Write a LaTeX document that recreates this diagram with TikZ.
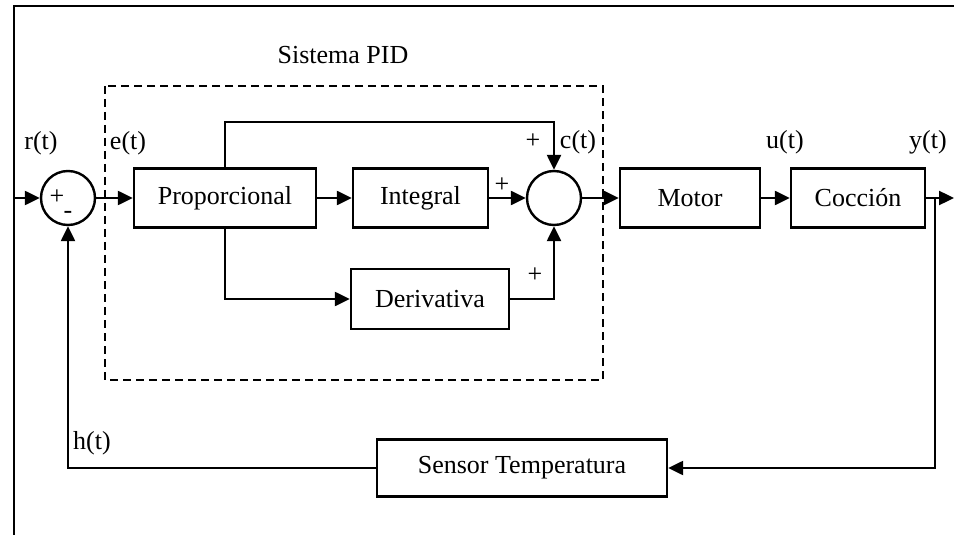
\documentclass[tikz,border=0pt]{standalone}
\usepackage{fontspec}
\setmainfont{Liberation Serif}
\usetikzlibrary{arrows.meta}
\begin{document}
\begin{tikzpicture}[x=0.5pt,y=-0.5pt,
  every node/.style={font=\fontsize{13}{15}\selectfont, inner sep=0pt},
  blk/.style={draw, line width=1.2pt, minimum height=29.5pt},
  sumc/.style={draw, circle, line width=1.2pt, minimum size=27pt},
  conn/.style={line width=1.2pt},
  arr/.style={line width=1.2pt, -{Triangle[length=7.5pt,width=7pt]}},
  lbl/.style={anchor=center}]
\useasboundingbox (0,0) rectangle (954,535);
% frame
\draw[line width=1pt] (14,535) -- (14,6) -- (954,6);
% dashed PID box
\draw[line width=1.1pt, dash pattern=on 4pt off 2.5pt] (105,86) rectangle (603,380);
\node[lbl] (pidlbl) at (343,55) {Sistema PID};
% blocks
\node[sumc] (s1) at (68,198) {};
\node[blk, minimum width=91pt] (prop) at (225,198) {Proporcional};
\node[blk, minimum width=67.5pt] (integ) at (420.5,198) {Integral};
\node[sumc] (s2) at (554,198) {};
\node[blk, minimum width=79pt, minimum height=30pt] (deriv) at (430,299) {Derivativa};
\node[blk, minimum width=70pt] (motor) at (690,198) {Motor};
\node[blk, minimum width=67pt] (cocc) at (858,198) {Cocción};
\node[blk, minimum width=145pt, minimum height=28.5pt] (sensor) at (522,468) {Sensor Temperatura};
% coordinates
\coordinate (in) at (14,198);
\coordinate (out) at (954,198);
\coordinate (br) at (935,198);
\coordinate (top) at (0,122);
% connectors
\draw[arr] (in) -- (s1.west);
\draw[arr] (s1.east) -- (prop.west);
\draw[arr] (prop.east) -- (integ.west);
\draw[arr] (integ.east) -- (s2.west);
\draw[arr] (prop.north) -- (prop.north |- top) -| (s2.north);
\draw[arr] (prop.south) |- (deriv.west);
\draw[arr] (deriv.east) -| (s2.south);
\draw[arr] (s2.east) -- (motor.west);
\draw[arr] (motor.east) -- (cocc.west);
\draw[arr] (cocc.east) -- (out);
\draw[arr] (br) |- (sensor.east);
\draw[arr] (sensor.west) -| (s1.south);
% labels
\node[lbl] (lr) at (41,143) {r(t)};
\node[lbl] (le) at (128,143) {e(t)};
\node[lbl] (lc) at (578,142) {c(t)};
\node[lbl] (lu) at (785,142) {u(t)};
\node[lbl] (ly) at (928,142) {y(t)};
\node[lbl] (lh) at (92,443) {h(t)};
\node[lbl] (p1) at (57,197) {+};
\node[lbl] (m1) at (68,215) {-};
\node[lbl] (p2) at (533,141) {+};
\node[lbl] (p3) at (502,185) {+};
\node[lbl] (p4) at (535,275) {+};
\end{tikzpicture}
\end{document}
